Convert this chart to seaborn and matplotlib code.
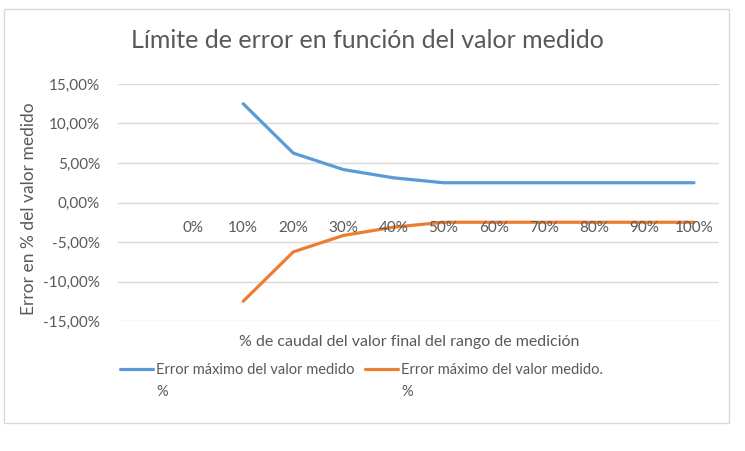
import numpy as np
import pandas as pd
import matplotlib
matplotlib.use("Agg")
import matplotlib.pyplot as plt
import seaborn as sns
from matplotlib.patches import Rectangle

# Data
categories = ["0%", "10%", "20%", "30%", "40%", "50%", "60%", "70%", "80%", "90%", "100%"]
error_upper = [np.nan, 12.5, 6.25, 4.17, 3.125, 2.5, 2.5, 2.5, 2.5, 2.5, 2.5]
error_lower = [np.nan, -12.5, -6.25, -4.17, -3.125, -2.5, -2.5, -2.5, -2.5, -2.5, -2.5]
y_ticks = [-15, -10, -5, 0, 5, 10, 15]
series_names = ["Error máximo del valor medido\n%", "Error máximo del valor medido.\n%"]

blue = "#5B9BD5"
orange = "#ED7D31"
text_col = "#595959"
grid_col = "#D9D9D9"

sns.set_theme(style="white")
plt.rcParams["font.family"] = ["Lato", "DejaVu Sans"]

df = pd.DataFrame({
    "pos": list(range(len(categories))) * 2,
    "value": error_upper + error_lower,
    "serie": [series_names[0]] * len(categories) + [series_names[1]] * len(categories),
})

fig = plt.figure(figsize=(7.45, 4.51), dpi=100)
ax = fig.add_axes([118 / 745, 1 - 321 / 451, (719 - 118) / 745, (321 - 84) / 451])

sns.lineplot(data=df, x="pos", y="value", hue="serie", palette=[blue, orange],
             linewidth=2.3, ax=ax, legend=False, solid_capstyle="round")

ax.set_xlim(-1.5, 10.5)
ax.set_ylim(-15, 15)
ax.set_yticks(y_ticks)
ax.set_yticklabels([f"{v:.2f}%".replace(".", ",") for v in y_ticks],
                   fontsize=11, color=text_col)
ax.set_xticks([])
ax.grid(axis="y", color=grid_col, linewidth=1)
for s in ax.spines.values():
    s.set_visible(False)
ax.tick_params(axis="y", length=0, pad=13)
ax.set_xlabel("")
ax.set_ylabel("")

# category labels sit just under the zero line
for i, lab in enumerate(categories):
    ax.text(i, -3.2, lab, ha="center", va="center", fontsize=11, color=text_col)

fig.text(367 / 745, 1 - 40 / 451, "Límite de error en función del valor medido",
         ha="center", va="center", fontsize=18, color=text_col)
fig.text(29 / 745, 1 - 209 / 451, "Error en % del valor medido", rotation=90,
         ha="center", va="center", fontsize=12.5, color=text_col)
fig.text(409 / 745, 1 - 342 / 451, "% de caudal del valor final del rango de medición",
         ha="center", va="center", fontsize=11.5, color=text_col)

# legend drawn manually to match the wrapped entries
for (x0, col, name) in [(120, blue, series_names[0]), (365, orange, series_names[1])]:
    fig.add_artist(plt.Line2D([x0 / 745, (x0 + 33) / 745], [1 - 369 / 451] * 2,
                              color=col, linewidth=2.3, solid_capstyle="round"))
    fig.text((x0 + 36) / 745, 1 - 363 / 451, name, ha="left", va="top",
             fontsize=10.5, color=text_col, linespacing=1.75)

fig.add_artist(Rectangle((4 / 745, 1 - 423 / 451), (729 - 4) / 745, (423 - 9) / 451,
                         transform=fig.transFigure, fill=False,
                         edgecolor="#D9D9D9", linewidth=1))

fig.savefig("out.png", dpi=100, facecolor="white")
